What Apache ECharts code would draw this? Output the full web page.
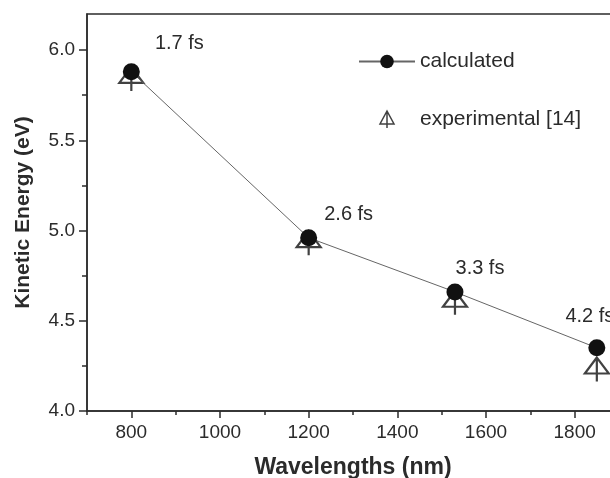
<!DOCTYPE html>
<html>
<head>
<meta charset="utf-8">
<script src="https://cdn.jsdelivr.net/npm/echarts@6/dist/echarts.min.js"></script>
<style>
  html, body { margin: 0; padding: 0; background: #fff; }
  #chart { width: 610px; height: 478px; }
</style>
</head>
<body>
<div id="chart"></div>
<script>
  // data
  var wavelengths = [800, 1200, 1530, 1850]
  var calculated = [5.88, 4.96, 4.66, 4.35]
  var experimental = [5.84, 4.93, 4.60, 4.23]
  var pulseLabels = ['1.7 fs', '2.6 fs', '3.3 fs', '4.2 fs']
  var xMajorTicks = [800, 1000, 1200, 1400, 1600, 1800]
  var xMinorTicks = [700, 900, 1100, 1300, 1500, 1700, 1900]
  var yMajorTicks = [4.0, 4.5, 5.0, 5.5, 6.0]

  // label placement (style only), offset from the marker centre
  var labelOffsets = [[48, -28], [40, -23], [25, -23], [-7, -31]]

  var ink = '#2b2b2b'
  var font = 'Arial, "Liberation Sans", sans-serif'
  // open triangle with a vertical stem through it
  var triSymbol = 'path://M12,0 L0,16 L24,16 Z M12,0 L12,24'
  var triLegendIcon = 'path://M7,0 L0,13 L14,13 Z M7,0 L7,17'

  var chart = echarts.init(document.getElementById('chart'))
  chart.setOption({
    backgroundColor: '#fff',
    animation: false,
    textStyle: { fontFamily: font, color: ink },
    grid: {
      left: 87,
      top: 14,
      width: 532,
      bottom: 67,
      outerBoundsMode: 'none',
      containLabel: false,
      show: true,
      borderColor: ink,
      borderWidth: 1.5,
      backgroundColor: 'transparent'
    },
    legend: {
      orient: 'vertical',
      left: 358,
      top: 51,
      padding: 0,
      itemWidth: 56,
      itemHeight: 17,
      itemGap: 37,
      textStyle: { fontSize: 21, color: ink, fontFamily: font },
      data: [
        'calculated',
        {
          name: 'experimental [14]',
          icon: triLegendIcon,
          itemStyle: { color: 'rgba(255,255,255,0)', borderColor: '#111', borderWidth: 1.5 }
        }
      ]
    },
    xAxis: [{
      type: 'value',
      min: 700,
      max: 1900,
      name: 'Wavelengths (nm)',
      nameLocation: 'middle',
      nameGap: 45,
      nameTextStyle: { fontSize: 23, fontWeight: 'bold', color: ink, fontFamily: font },
      axisLine: { lineStyle: { color: ink, width: 1.5 } },
      axisTick: { show: true, customValues: xMajorTicks, length: 7, lineStyle: { color: ink, width: 1.5 } },
      axisLabel: {
        customValues: xMajorTicks,
        fontSize: 19,
        color: ink,
        margin: 12,
        formatter: function (v) { return String(v) }
      },
      splitLine: { show: false }
    }, {
      // minor ticks only
      type: 'value',
      position: 'bottom',
      min: 700,
      max: 1900,
      axisLine: { show: false },
      axisTick: { show: true, customValues: xMinorTicks, length: 4, lineStyle: { color: ink, width: 1.5 } },
      axisLabel: { show: false },
      splitLine: { show: false }
    }],
    yAxis: {
      type: 'value',
      min: 4.0,
      max: 6.2,
      interval: 0.5,
      name: 'Kinetic Energy (eV)',
      nameLocation: 'middle',
      nameGap: 53,
      nameTextStyle: { fontSize: 21, fontWeight: 'bold', color: ink, fontFamily: font },
      axisLine: { show: true, lineStyle: { color: ink, width: 1.5 } },
      axisTick: { show: true, customValues: yMajorTicks, length: 8, lineStyle: { color: ink, width: 1.5 } },
      minorTick: { show: true, splitNumber: 2, length: 5, lineStyle: { color: ink, width: 1.5 } },
      axisLabel: {
        customValues: yMajorTicks,
        fontSize: 19,
        color: ink,
        margin: 12,
        formatter: function (v) { return v.toFixed(1) }
      },
      splitLine: { show: false }
    },
    series: [{
      name: 'experimental [14]',
      type: 'scatter',
      z: 2,
      symbol: triSymbol,
      symbolSize: [24, 24],
      symbolKeepAspect: true,
      itemStyle: { color: 'rgba(255,255,255,0)', borderColor: '#111', borderWidth: 2.2 },
      data: wavelengths.map(function (w, i) { return [w, experimental[i]] })
    }, {
      name: 'calculated',
      type: 'line',
      z: 3,
      symbol: 'circle',
      symbolSize: 17,
      showAllSymbol: true,
      lineStyle: { color: '#666', width: 1 },
      itemStyle: { color: '#111' },
      label: {
        show: true,
        position: 'inside',
        fontSize: 20,
        color: ink,
        fontFamily: font,
        formatter: function (p) { return pulseLabels[p.dataIndex] }
      },
      data: wavelengths.map(function (w, i) {
        return { value: [w, calculated[i]], label: { offset: labelOffsets[i] } }
      })
    }]
  })
</script>
</body>
</html>
